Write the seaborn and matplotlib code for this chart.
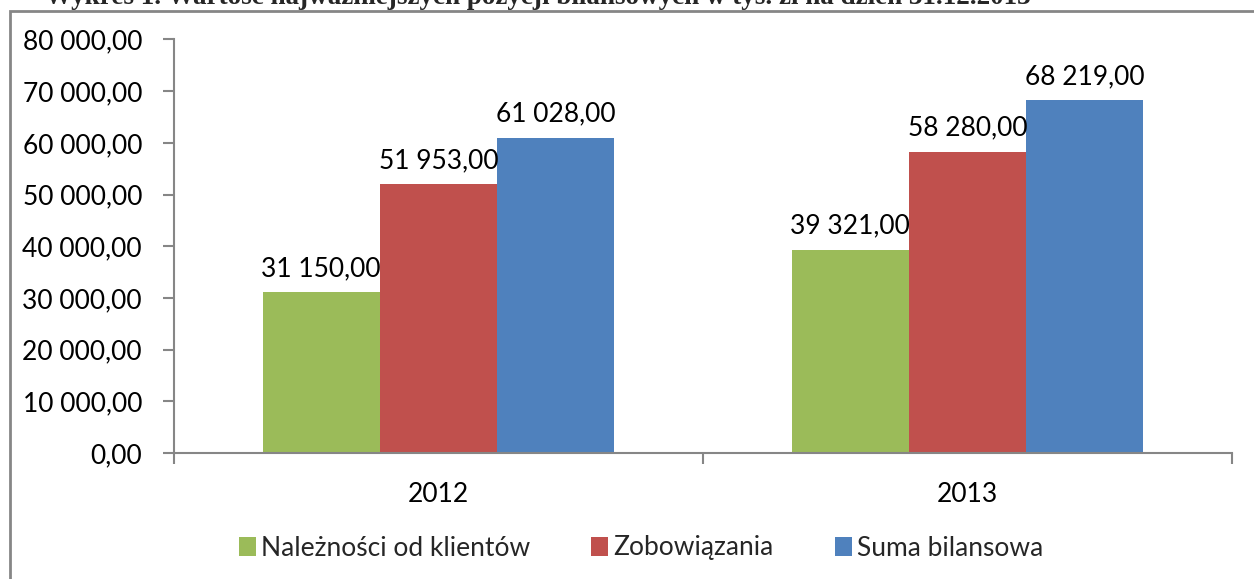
import matplotlib
matplotlib.use("Agg")
import matplotlib.pyplot as plt
import matplotlib.patches as mpatches
from matplotlib.ticker import FuncFormatter, FixedLocator
import seaborn as sns
import pandas as pd

# ---- data ----
years = ["2012", "2013"]
series = ["Należności od klientów", "Zobowiązania", "Suma bilansowa"]
naleznosci = [31150.00, 39321.00]
zobowiazania = [51953.00, 58280.00]
suma = [61028.00, 68219.00]
yticks = [0, 10000, 20000, 30000, 40000, 50000, 60000, 70000, 80000]
title = "Wykres 1. Wartość najważniejszych pozycji bilansowych w tys. zł na dzień 31.12.2013"

colors = ["#9BBB59", "#C0504D", "#4F81BD"]

rows = []
for name, vals in zip(series, [naleznosci, zobowiazania, suma]):
    for y, v in zip(years, vals):
        rows.append({"Rok": y, "Seria": name, "Wartość": v})
df = pd.DataFrame(rows)

def fmt(v):
    s = f"{v:,.2f}"
    return s.replace(",", " ").replace(".", ",")

sns.set_theme(style="white")
plt.rcParams["font.family"] = ["Lato", "DejaVu Sans"]

FS = 19
W, H = 1254, 579
fig = plt.figure(figsize=(W / 100, H / 100), dpi=100)
ax = fig.add_axes([174 / W, 1 - 453 / H, (1232 - 174) / W, (453 - 39.5) / H])

sns.barplot(data=df, x="Rok", y="Wartość", hue="Seria", hue_order=series,
            order=years, palette=colors, width=0.665, saturation=1,
            ax=ax, legend=False, linewidth=0)

ax.set_xlim(-0.5, 1.5)
ax.set_ylim(0, 80000)
ax.yaxis.set_major_locator(FixedLocator(yticks))
ax.yaxis.set_major_formatter(FuncFormatter(lambda v, p: fmt(v)))
ax.set_xlabel("")
ax.set_ylabel("")

spine_col = "#868686"
for s in ["top", "right"]:
    ax.spines[s].set_visible(False)
for s in ["left", "bottom"]:
    ax.spines[s].set_color(spine_col)
    ax.spines[s].set_linewidth(1.5)

ax.tick_params(axis="y", which="major", direction="out", length=8, width=1.5,
               color=spine_col, labelsize=FS, labelcolor="black", pad=15, left=True)
ax.tick_params(axis="x", which="major", length=0, labelsize=FS, labelcolor="black", pad=21)
ax.xaxis.set_minor_locator(FixedLocator([-0.5, 0.5, 1.5]))
ax.tick_params(axis="x", which="minor", direction="out", length=8, width=1.5,
               color=spine_col, bottom=True)

for cont in ax.containers:
    ax.bar_label(cont, labels=[fmt(v) for v in cont.datavalues], padding=8,
                 fontsize=FS, color="black")

handles = [mpatches.Patch(facecolor=c, edgecolor="none", label=n) for c, n in zip(colors, series)]
fig.legend(handles=handles, loc="center", bbox_to_anchor=(641 / W, 1 - 548 / H),
           ncol=3, frameon=False, fontsize=FS, handlelength=0.65, handleheight=0.7,
           handletextpad=0.2, columnspacing=2.3)

fig.text(45 / W, 1 - 4 / H, title, fontsize=19.5, fontweight="bold",
         family=["Liberation Serif", "DejaVu Serif"], va="baseline", ha="left")

frame = mpatches.Rectangle((10 / W, -0.1), 2, 1 - 10.5 / H + 0.1, transform=fig.transFigure,
                           fill=False, edgecolor=spine_col, linewidth=2, clip_on=False)
fig.patches.append(frame)

fig.savefig("out.png", dpi=100)
